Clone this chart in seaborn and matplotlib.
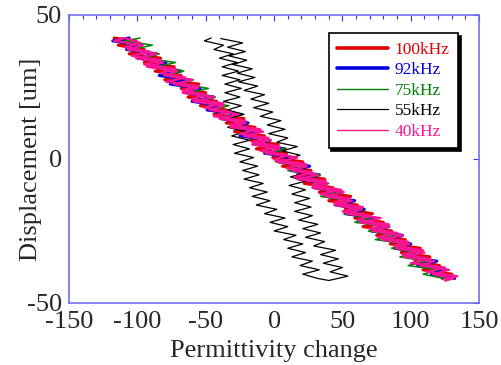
import numpy as np
import pandas as pd
import matplotlib
matplotlib.use("Agg")
import matplotlib.pyplot as plt
from matplotlib.ticker import MultipleLocator
import seaborn as sns

# ======================
# DATA
# ======================
y_down = [42, 41, 39.5, 38, 36.5, 35, 33.5, 32, 30.5, 29, 27.5, 26, 24.5, 23, 21.5, 20,
          18.5, 17, 15.5, 14, 12.5, 11, 9.5, 8, 6.5, 5, 3.5, 2, 0.5, -1, -2.5, -4, -5.5,
          -7, -8.5, -10, -11.5, -13, -14.5, -16, -17.5, -19, -20.5, -22, -23.5, -25,
          -26.5, -28, -29.5, -31, -32.5, -34, -35.5, -37, -38.5, -40, -41.5]
y_up = [-42.2, -40.7, -39.2, -37.7, -36.2, -34.7, -33.2, -31.7, -30.2, -28.7, -27.2,
        -25.7, -24.2, -22.7, -21.2, -19.7, -18.2, -16.7, -15.2, -13.7, -12.2, -10.7,
        -9.2, -7.7, -6.2, -4.7, -3.2, -1.7, -0.2, 1.3, 2.8, 4.3, 5.8, 7.3, 8.8, 10.3,
        11.8, 13.3, 14.8, 16.3, 17.8, 19.3, 20.8, 22.3, 23.8, 25.3, 26.8, 28.3, 29.8,
        31.3, 32.8, 34.3, 35.8, 37.3, 38.8, 40.3, 41.8]

x_100k = [-117, -101, -114, -95, -106, -83, -95, -73, -87, -68,
          -80, -55, -68, -50, -63, -42, -54, -35, -44, -22,
          -35, -14, -29, -7, -17, 3, -13, 9, -1, 21,
          6, 27, 17, 37, 22, 43, 33, 56, 40, 61,
          52, 72, 59, 80, 65, 86, 75, 96, 85, 107,
          93, 114, 103, 121, 109, 130, 123]
x_92k = [-106, -118, -97, -108, -86, -100, -79, -89, -68, -84,
         -64, -76, -54, -65, -44, -60, -39, -49, -26, -39,
         -19, -31, -12, -25, -3, -12, 8, -7, 14, 3,
         26, 12, 33, 18, 38, 29, 50, 38, 59, 45,
         66, 52, 74, 65, 84, 71, 94, 81, 100, 88,
         108, 97, 119, 105, 124, 115, 132]
x_75k = [-98, -109, -89, -104, -84, -95, -72, -86, -66, -81,
         -59, -68, -48, -62, -43, -55, -33, -45, -23, -38,
         -20, -32, -9, -21, -2, -15, 9, -3, 15, 1,
         22, 10, 34, 19, 40, 29, 49, 34, 55, 44,
         65, 51, 70, 59, 83, 69, 89, 74, 96, 86,
         105, 92, 111, 98, 120, 109, 124]
x_55k_down = [-46, -51, -37, -44, -30, -40, -27, -38, -26, -38,
              -25, -36, -24, -36, -25, -37, -24, -34, -22, -34,
              -23, -34, -21, -31, -18, -30, -18, -29, -15, -25,
              -12, -23, -11, -22, -8, -18, -5, -16, -3, -13,
              2, -7, 8, -3, 10, 0, 16, 7, 21, 10,
              23, 13, 28, 19, 33, 21, 32]
x_55k_up = [40, 54, 41, 50, 36, 47, 34, 45, 29, 37,
            23, 34, 21, 32, 18, 28, 15, 27, 15, 26,
            13, 23, 11, 23, 12, 24, 10, 20, 7, 19,
            6, 17, 2, 10, -4, 8, -5, 5, -10, -1,
            -15, -4, -17, -7, -22, -12, -26, -14, -27, -16,
            -30, -20, -33, -21, -34, -23, -39]
x_40k_down = [-109, -117, -96, -107, -86, -101, -81, -93, -71, -80,
              -60, -73, -56, -67, -44, -59, -37, -47, -26, -40,
              -21, -32, -8, -22, -3, -16, 4, -6, 17, 2,
              24, 13, 32, 17, 39, 28, 51, 38, 57, 44,
              64, 53, 78, 63, 84, 72, 94, 79, 99, 89,
              110, 95, 117, 107, 128, 116, 131]
x_40k_up = [125, 134, 112, 125, 100, 114, 94, 109, 88, 98,
            76, 90, 70, 84, 61, 70, 50, 65, 44, 55,
            34, 49, 28, 38, 15, 28, 9, 23, 0, 10,
            -10, 4, -16, -4, -25, -10, -32, -21, -44, -32,
            -51, -37, -60, -50, -67, -55, -79, -65, -83, -72,
            -95, -83, -104, -91, -109, -98, -108]

labels = ["100kHz", "92kHz", "75kHz", "55kHz", "40kHz"]
colors = ["#e00000", "#0000e0", "#008000", "#000000", "#ff1493"]
widths = [2.2, 2.2, 1.1, 0.9, 1.6]
legend_widths = [2.6, 2.6, 1.0, 0.9, 1.0]

series = [
    (x_100k, y_down),
    (x_92k, y_down),
    (x_75k, y_down),
    (x_55k_down + x_55k_up, y_down + y_up),
    (x_40k_down + x_40k_up, y_down + y_up),
]

# ======================
# STYLE
# ======================
sns.set_style("white")
plt.rcParams["font.family"] = ["Liberation Serif", "DejaVu Serif"]
plt.rcParams["axes.unicode_minus"] = False

fig = plt.figure(figsize=(5.02, 3.65), dpi=100)
ax = fig.add_axes([0.1375, 0.170, 0.817, 0.789])

for (xs, ys), lab, col, lw in zip(series, labels, colors, widths):
    df = pd.DataFrame({"x": xs, "y": ys})
    sns.lineplot(data=df, x="x", y="y", sort=False, estimator=None, color=col,
                 lw=lw, label=lab, ax=ax)

ax.set_xlim(-150, 150)
ax.set_ylim(-50, 50)
ax.set_xticks([-150, -100, -50, 0, 50, 100, 150])
ax.set_yticks([-50, 0, 50])
ax.xaxis.set_minor_locator(MultipleLocator(10))
ax.tick_params(which="both", direction="in", top=True, right=True,
               color="#3030ff", length=4, width=0.8, labelsize=19, pad=5)
ax.tick_params(axis="x", which="minor", length=3)
ax.tick_params(axis="x", which="major", pad=6)
for s in ax.spines.values():
    s.set_color("#7070f0")
    s.set_linewidth(1.2)

ax.set_xlabel("Permittivity change", fontsize=19, labelpad=5)
ax.set_ylabel("Displacement [um]", fontsize=19)
ax.yaxis.set_label_coords(-0.066, 0.5)

leg = ax.legend(loc="upper right", bbox_to_anchor=(0.949, 0.9375), borderaxespad=0,
                fontsize=12.5, frameon=True, fancybox=False, edgecolor="black",
                shadow={"color": "black", "alpha": 1}, labelcolor="linecolor",
                handlelength=2.9, handletextpad=0.4, labelspacing=0.25,
                borderpad=0.5)
leg.get_frame().set_linewidth(1.2)
for line, lw in zip(leg.get_lines(), legend_widths):
    line.set_linewidth(lw)

fig.savefig("out.png", dpi=100)
